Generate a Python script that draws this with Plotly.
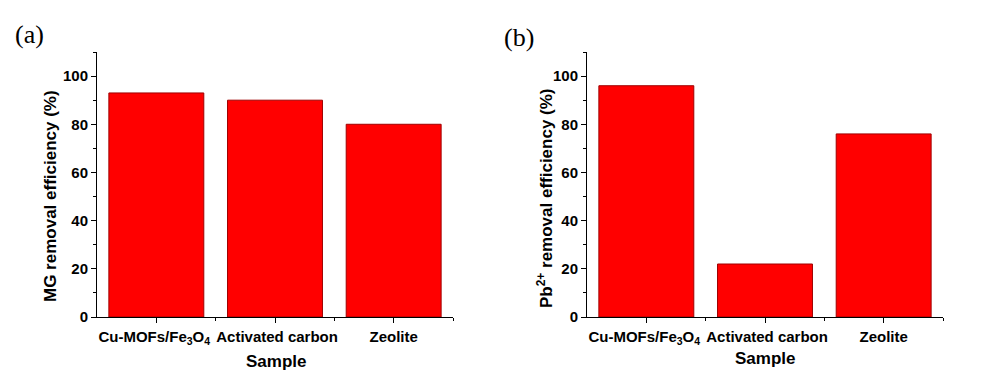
import plotly.graph_objects as go

categories = ["Cu-MOFs/Fe<sub>3</sub>O<sub>4</sub>\u00a0", "\u00a0Activated carbon", "Zeolite"]
mg_removal = [93, 90, 80]
pb_removal = [96, 22, 76]
y_ticks = [0, 20, 40, 60, 80, 100]

W, H = 1002, 372
def px_x(v): return v / W
def px_y(v): return 1 - v / H

fig = go.Figure()
xpos = list(range(len(categories)))
bar_style = dict(marker=dict(color="#FF0000", line=dict(color="#A00000", width=1)), width=0.8, showlegend=False)
fig.add_trace(go.Bar(x=xpos, y=mg_removal, xaxis="x", yaxis="y", **bar_style))
fig.add_trace(go.Bar(x=xpos, y=pb_removal, xaxis="x2", yaxis="y2", **bar_style))

tickfont = dict(family="Arial", size=15, color="black", weight="bold")
def xaxis(domain, anchor):
    return dict(domain=domain, anchor=anchor, range=[-0.5, 2.5], tickvals=xpos, ticktext=categories,
                showline=True, linecolor="black", linewidth=1, ticks="outside", ticklen=5, tickcolor="black",
                ticklabelstandoff=1, tickangle=0, automargin=False,
                showgrid=False, zeroline=False, tickfont=tickfont, fixedrange=True,
                minor=dict(tickvals=[0.5, 1.5, 2.5], ticks="outside", ticklen=3, tickcolor="black"))
def yaxis(anchor):
    return dict(domain=[px_y(317), px_y(52)], anchor=anchor, range=[0, 110], tickvals=y_ticks,
                showline=True, linecolor="black", linewidth=1, ticks="outside", ticklen=5, tickcolor="black",
                showgrid=False, zeroline=False, tickfont=tickfont, automargin=False,
                minor=dict(tickvals=[10, 30, 50, 70, 90, 110], ticks="outside", ticklen=3, tickcolor="black"))

fig.update_layout(
    width=W, height=H, margin=dict(l=0, r=0, t=0, b=0),
    paper_bgcolor="white", plot_bgcolor="white",
    font=dict(family="Arial", size=15, color="black"),
    xaxis=xaxis([px_x(97), px_x(453)], "y"),
    yaxis=yaxis("x"),
    xaxis2=xaxis([px_x(587), px_x(943)], "y2"),
    yaxis2=yaxis("x2"),
)

titlefont = dict(family="Arial", size=17, color="black", weight="bold")
labelfont = dict(family="Liberation Serif, Times New Roman, serif", size=26, color="black")
ann = [
    dict(text="(a)", x=px_x(29), y=px_y(34), font=labelfont),
    dict(text="(b)", x=px_x(519), y=px_y(37), font=labelfont),
    dict(text="MG removal efficiency (%)", x=px_x(50), y=px_y(196), textangle=-90, font=titlefont),
    dict(text="Pb<sup>2+</sup> removal efficiency (%)", x=px_x(545), y=px_y(198), textangle=-90, font=titlefont),
    dict(text="Sample", x=px_x(276), y=px_y(361), font=titlefont),
    dict(text="Sample", x=px_x(765), y=px_y(358), font=titlefont),
]
for a in ann:
    fig.add_annotation(xref="paper", yref="paper", showarrow=False, xanchor="center", yanchor="middle", **a)

fig.write_html("out.html")
